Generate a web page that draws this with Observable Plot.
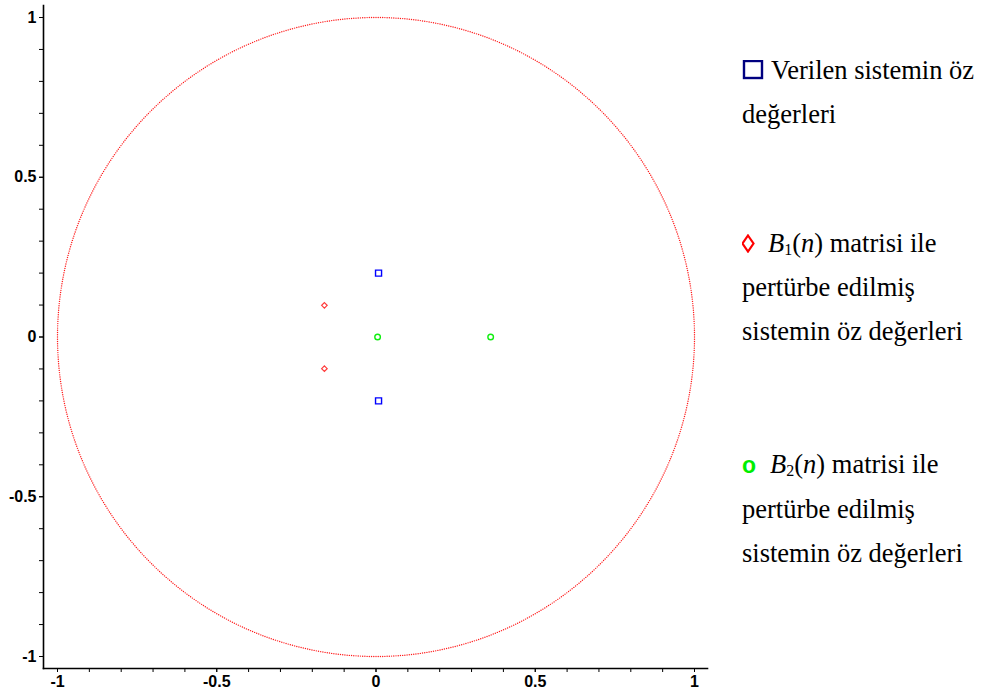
<!DOCTYPE html>
<html>
<head>
<meta charset="utf-8">
<script src="https://cdn.jsdelivr.net/npm/d3@7"></script>
<script src="https://cdn.jsdelivr.net/npm/@observablehq/plot@0.6"></script>
<style>
  html, body { margin: 0; padding: 0; background: #fff; }
  #wrap { position: relative; width: 988px; height: 690px; overflow: hidden; }
  #chart { position: absolute; left: 0; top: 0; }
  .leg { position: absolute; left: 742px; font-family: "Liberation Serif", "Times New Roman", serif; font-size: 26.5px; line-height: 44px; color: #000; white-space: nowrap; }
  .leg i { font-style: italic; }
  .leg sub { font-size: 16px; vertical-align: -3px; line-height: 0; }
  .sym { display: inline-block; vertical-align: baseline; }
</style>
</head>
<body>
<div id="wrap">
  <div id="chart"></div>
  <div class="leg" style="top:48px"><svg class="sym" width="22" height="20" style="margin-right:7px;vertical-align:-1px"><rect x="2" y="1" width="18" height="17" fill="none" stroke="#000080" stroke-width="2.4"/></svg>Verilen sistemin öz<br>değerleri</div>
  <div class="leg" style="top:221px"><svg class="sym" width="14" height="19" style="margin-right:12px;vertical-align:-1px"><path d="M6,1.5 L11.5,9.5 L6,17.5 L0.5,9.5 Z" fill="none" stroke="#ff0000" stroke-width="2.2"/></svg><i>B</i><sub>1</sub>(<i>n</i>) matrisi ile<br>pertürbe edilmiş<br>sistemin öz değerleri</div>
  <div class="leg" style="top:442px"><span style="font-family:'Liberation Sans',Arial,sans-serif;font-weight:bold;color:#00ee00;font-size:23px;margin-right:14px;">o</span><i>B</i><sub>2</sub>(<i>n</i>) matrisi ile<br>pertürbe edilmiş<br>sistemin öz değerleri</div>
</div>
<script>
const givenRe = [0.008, 0.008];
const givenIm = [0.2, -0.2];
const b1Re = [-0.162, -0.162];
const b1Im = [0.099, -0.099];
const b2Re = [0.005, 0.36];
const b2Im = [0, 0];

// Unit circle reference (radius 1), sampled densely as dots
const circleRadius = 1;
const circleSamples = 900;

const majorTicks = [-1, -0.5, 0, 0.5, 1];
const majorTickLabels = ["-1", "-0.5", "0", "0.5", "1"];
const minorTicks = [-1, -0.9, -0.8, -0.7, -0.6, -0.5, -0.4, -0.3, -0.2, -0.1, 0, 0.1, 0.2, 0.3, 0.4, 0.5, 0.6, 0.7, 0.8, 0.9, 1];

const circle = d3.range(circleSamples).map(i => {
  const t = 2 * Math.PI * i / circleSamples;
  return {x: circleRadius * Math.cos(t), y: circleRadius * Math.sin(t)};
});
const toPts = (re, im) => re.map((r, i) => ({x: r, y: im[i]}));
const labelOf = v => majorTickLabels[majorTicks.indexOf(v)];

const tickFont = {fontFamily: "'Liberation Sans', Arial, sans-serif", fontWeight: "bold", fontSize: 16};

const plot = Plot.plot({
  width: 720,
  height: 690,
  marginLeft: 43,
  marginRight: 13,
  marginTop: 5,
  marginBottom: 22,
  insetLeft: 14,
  insetRight: 13,
  insetTop: 12,
  insetBottom: 12,
  x: {domain: [-1, 1]},
  y: {domain: [-1, 1]},
  style: {background: "#fff", overflow: "visible"},
  marks: [
    Plot.frame({anchor: "left", stroke: "#000", strokeWidth: 1.6}),
    Plot.frame({anchor: "bottom", stroke: "#000", strokeWidth: 1.6}),
    Plot.axisX({ticks: minorTicks, tickSize: 4, tickFormat: () => "", label: null, stroke: "#000"}),
    Plot.axisY({ticks: minorTicks, tickSize: 4, tickFormat: () => "", label: null, stroke: "#000"}),
    Plot.axisX({ticks: majorTicks, tickSize: 4, tickPadding: 3, tickFormat: labelOf, label: null, ...tickFont, fill: "#000"}),
    Plot.axisY({ticks: majorTicks, tickSize: 4, tickPadding: 3, tickFormat: labelOf, label: null, ...tickFont, fill: "#000"}),
    Plot.dot(circle, {x: "x", y: "y", r: 0.7, fill: "#ff1a1a", stroke: null}),
    Plot.dot(toPts(givenRe, givenIm), {x: "x", y: "y", symbol: "square", r: 3.4, stroke: "#0000ff", strokeWidth: 1.4, fill: "none"}),
    Plot.dot(toPts(b1Re, b1Im), {x: "x", y: "y", symbol: "diamond2", r: 2.5, stroke: "#ff3b3b", strokeWidth: 1.2, fill: "none"}),
    Plot.dot(toPts(b2Re, b2Im), {x: "x", y: "y", symbol: "circle", r: 2.8, stroke: "#11ee11", strokeWidth: 1.4, fill: "none"})
  ]
});
document.getElementById("chart").appendChild(plot);
</script>
</body>
</html>
